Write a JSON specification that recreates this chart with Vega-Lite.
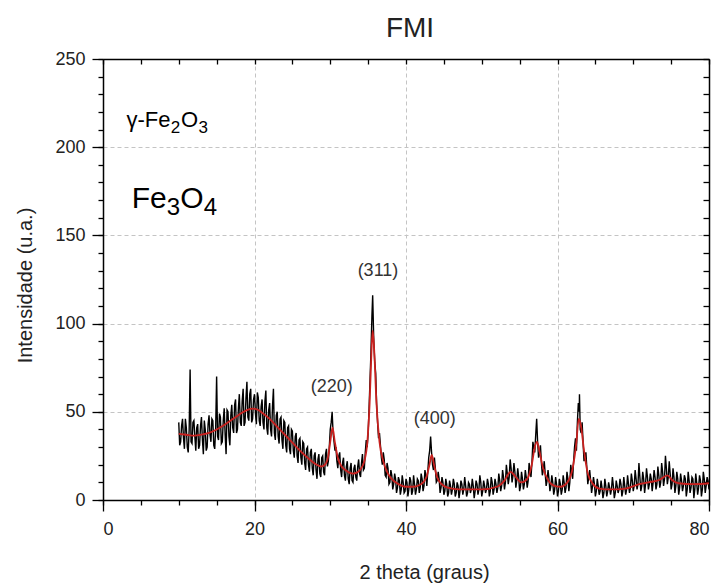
{
  "$schema": "https://vega.github.io/schema/vega-lite/v6.json",
  "width": 606,
  "height": 441,
  "autosize": "none",
  "padding": {"left": 103, "top": 59, "right": 13, "bottom": 86},
  "background": "white",
  "config": {
    "view": {"stroke": null},
    "font": "Liberation Sans",
    "axis": {
      "labelFont": "Liberation Sans",
      "titleFont": "Liberation Sans",
      "labelColor": "#222",
      "titleColor": "#222",
      "domainColor": "black",
      "tickColor": "black",
      "domainWidth": 1.5,
      "tickWidth": 1.3,
      "gridColor": "#c4c4c4",
      "gridDash": [4, 3],
      "gridWidth": 1
    }
  },
  "title": {"text": "FMI", "fontSize": 28, "fontWeight": "normal", "font": "Liberation Sans", "color": "#222", "offset": 7, "dx": 4},
  "datasets": {
    "obs": [
      {"t":10,"i":44},{"t":10.25,"i":33},{"t":10.5,"i":46},{"t":10.75,"i":29},{"t":11,"i":41},{"t":11.25,"i":27},{"t":11.5,"i":74},{"t":11.75,"i":32},
      {"t":12,"i":45},{"t":12.25,"i":28},{"t":12.5,"i":43},{"t":12.75,"i":31},{"t":13,"i":47},{"t":13.25,"i":26},{"t":13.5,"i":40},{"t":13.75,"i":30},
      {"t":14,"i":48},{"t":14.25,"i":33},{"t":14.5,"i":45},{"t":14.75,"i":29},{"t":15,"i":70},{"t":15.25,"i":34},{"t":15.5,"i":47},{"t":15.75,"i":33},
      {"t":16,"i":52},{"t":16.25,"i":26},{"t":16.5,"i":50},{"t":16.75,"i":31},{"t":17,"i":54},{"t":17.25,"i":38},{"t":17.5,"i":57},{"t":17.75,"i":40},
      {"t":18,"i":60},{"t":18.25,"i":42},{"t":18.5,"i":63},{"t":18.75,"i":44},{"t":19,"i":67},{"t":19.25,"i":45},{"t":19.5,"i":63},{"t":19.75,"i":46},
      {"t":20,"i":60},{"t":20.25,"i":43},{"t":20.5,"i":58},{"t":20.75,"i":42},{"t":21,"i":57},{"t":21.25,"i":40},{"t":21.5,"i":62},{"t":21.75,"i":37},
      {"t":22,"i":55},{"t":22.25,"i":36},{"t":22.5,"i":63},{"t":22.75,"i":34},{"t":23,"i":50},{"t":23.25,"i":32},{"t":23.5,"i":47},{"t":23.75,"i":29},
      {"t":24,"i":44},{"t":24.25,"i":27},{"t":24.5,"i":42},{"t":24.75,"i":26},{"t":25,"i":39},{"t":25.25,"i":24},{"t":25.5,"i":38},{"t":25.75,"i":21},
      {"t":26,"i":35},{"t":26.25,"i":20},{"t":26.5,"i":32},{"t":26.75,"i":17},{"t":27,"i":30},{"t":27.25,"i":16},{"t":27.5,"i":29},{"t":27.75,"i":14},
      {"t":28,"i":27},{"t":28.25,"i":12},{"t":28.5,"i":26},{"t":28.75,"i":13},{"t":29,"i":25},{"t":29.25,"i":14},{"t":29.5,"i":29},{"t":29.75,"i":22},
      {"t":30,"i":40},{"t":30.25,"i":50},{"t":30.5,"i":33},{"t":30.75,"i":30},{"t":31,"i":18},{"t":31.25,"i":27},{"t":31.5,"i":13},{"t":31.75,"i":24},
      {"t":32,"i":11},{"t":32.25,"i":22},{"t":32.5,"i":9},{"t":32.75,"i":21},{"t":33,"i":10},{"t":33.25,"i":20},{"t":33.5,"i":11},{"t":33.75,"i":23},
      {"t":34,"i":13},{"t":34.25,"i":26},{"t":34.5,"i":18},{"t":34.75,"i":34},{"t":35,"i":38},{"t":35.25,"i":68},{"t":35.5,"i":104},{"t":35.6,"i":116},
      {"t":35.75,"i":90},{"t":36,"i":72},{"t":36.25,"i":44},{"t":36.5,"i":38},{"t":36.75,"i":24},{"t":37,"i":27},{"t":37.25,"i":14},{"t":37.5,"i":21},
      {"t":37.75,"i":9},{"t":38,"i":17},{"t":38.25,"i":6},{"t":38.5,"i":15},{"t":38.75,"i":4},{"t":39,"i":13},{"t":39.25,"i":3},{"t":39.5,"i":14},
      {"t":39.75,"i":4},{"t":40,"i":12},{"t":40.25,"i":2},{"t":40.5,"i":13},{"t":40.75,"i":3},{"t":41,"i":14},{"t":41.25,"i":3},{"t":41.5,"i":12},
      {"t":41.75,"i":4},{"t":42,"i":15},{"t":42.25,"i":5},{"t":42.5,"i":17},{"t":42.75,"i":8},{"t":43,"i":24},{"t":43.25,"i":36},{"t":43.5,"i":20},
      {"t":43.75,"i":24},{"t":44,"i":10},{"t":44.25,"i":16},{"t":44.5,"i":4},{"t":44.75,"i":13},{"t":45,"i":3},{"t":45.25,"i":12},{"t":45.5,"i":2},
      {"t":45.75,"i":11},{"t":46,"i":3},{"t":46.25,"i":12},{"t":46.5,"i":2},{"t":46.75,"i":10},{"t":47,"i":1},{"t":47.25,"i":11},{"t":47.5,"i":3},
      {"t":47.75,"i":13},{"t":48,"i":2},{"t":48.25,"i":10},{"t":48.5,"i":4},{"t":48.75,"i":12},{"t":49,"i":1},{"t":49.25,"i":11},{"t":49.5,"i":3},
      {"t":49.75,"i":14},{"t":50,"i":2},{"t":50.25,"i":11},{"t":50.5,"i":4},{"t":50.75,"i":12},{"t":51,"i":2},{"t":51.25,"i":13},{"t":51.5,"i":3},
      {"t":51.75,"i":12},{"t":52,"i":4},{"t":52.25,"i":15},{"t":52.5,"i":5},{"t":52.75,"i":17},{"t":53,"i":6},{"t":53.25,"i":20},{"t":53.5,"i":9},
      {"t":53.75,"i":23},{"t":54,"i":10},{"t":54.25,"i":21},{"t":54.5,"i":7},{"t":54.75,"i":18},{"t":55,"i":5},{"t":55.25,"i":16},{"t":55.5,"i":6},
      {"t":55.75,"i":17},{"t":56,"i":7},{"t":56.25,"i":21},{"t":56.5,"i":13},{"t":56.75,"i":33},{"t":57,"i":27},{"t":57.25,"i":46},{"t":57.5,"i":24},
      {"t":57.75,"i":31},{"t":58,"i":14},{"t":58.25,"i":22},{"t":58.5,"i":8},{"t":58.75,"i":17},{"t":59,"i":5},{"t":59.25,"i":14},{"t":59.5,"i":3},
      {"t":59.75,"i":13},{"t":60,"i":2},{"t":60.25,"i":12},{"t":60.5,"i":3},{"t":60.75,"i":14},{"t":61,"i":4},{"t":61.25,"i":16},{"t":61.5,"i":5},
      {"t":61.75,"i":20},{"t":62,"i":12},{"t":62.25,"i":30},{"t":62.5,"i":28},{"t":62.75,"i":55},{"t":62.9,"i":60},{"t":63,"i":40},{"t":63.25,"i":44},
      {"t":63.5,"i":22},{"t":63.75,"i":27},{"t":64,"i":9},{"t":64.25,"i":17},{"t":64.5,"i":4},{"t":64.75,"i":13},{"t":65,"i":2},{"t":65.25,"i":12},
      {"t":65.5,"i":3},{"t":65.75,"i":11},{"t":66,"i":1},{"t":66.25,"i":12},{"t":66.5,"i":2},{"t":66.75,"i":10},{"t":67,"i":3},{"t":67.25,"i":13},
      {"t":67.5,"i":1},{"t":67.75,"i":11},{"t":68,"i":4},{"t":68.25,"i":12},{"t":68.5,"i":2},{"t":68.75,"i":13},{"t":69,"i":3},{"t":69.25,"i":14},
      {"t":69.5,"i":4},{"t":69.75,"i":15},{"t":70,"i":5},{"t":70.25,"i":17},{"t":70.5,"i":6},{"t":70.75,"i":21},{"t":71,"i":5},{"t":71.25,"i":16},
      {"t":71.5,"i":4},{"t":71.75,"i":18},{"t":72,"i":6},{"t":72.25,"i":15},{"t":72.5,"i":5},{"t":72.75,"i":17},{"t":73,"i":6},{"t":73.25,"i":19},
      {"t":73.5,"i":7},{"t":73.75,"i":21},{"t":74,"i":8},{"t":74.25,"i":25},{"t":74.5,"i":9},{"t":74.75,"i":22},{"t":75,"i":6},{"t":75.25,"i":18},
      {"t":75.5,"i":4},{"t":75.75,"i":16},{"t":76,"i":3},{"t":76.25,"i":15},{"t":76.5,"i":5},{"t":76.75,"i":14},{"t":77,"i":2},{"t":77.25,"i":16},
      {"t":77.5,"i":4},{"t":77.75,"i":13},{"t":78,"i":1},{"t":78.25,"i":15},{"t":78.5,"i":3},{"t":78.75,"i":14},{"t":79,"i":2},{"t":79.25,"i":16},
      {"t":79.5,"i":4},{"t":79.75,"i":13},{"t":80,"i":6},
      {"t":10.125,"i":31},{"t":10.375,"i":42},{"t":10.625,"i":35},{"t":10.875,"i":46},{"t":11.125,"i":30},{"t":11.375,"i":40},{"t":11.625,"i":33},{"t":11.875,"i":44},
      {"t":12.125,"i":36},{"t":12.375,"i":41},{"t":12.625,"i":29},{"t":12.875,"i":42},{"t":13.125,"i":34},{"t":13.375,"i":45},{"t":13.625,"i":28},{"t":13.875,"i":43},
      {"t":14.125,"i":37},{"t":14.375,"i":46},{"t":14.625,"i":31},{"t":14.875,"i":41},{"t":15.125,"i":36},{"t":15.375,"i":49},{"t":15.625,"i":32},{"t":15.875,"i":45},
      {"t":16.125,"i":37},{"t":16.375,"i":51},{"t":16.625,"i":36},{"t":16.875,"i":48},{"t":17.125,"i":41},{"t":17.375,"i":54},{"t":17.625,"i":38},{"t":17.875,"i":52},
      {"t":18.125,"i":44},{"t":18.375,"i":56},{"t":18.625,"i":42},{"t":18.875,"i":58},{"t":19.125,"i":47},{"t":19.375,"i":60},{"t":19.625,"i":44},{"t":19.875,"i":57},
      {"t":20.125,"i":49},{"t":20.375,"i":61},{"t":20.625,"i":45},{"t":20.875,"i":53},{"t":21.125,"i":44},{"t":21.375,"i":56},{"t":21.625,"i":41},{"t":21.875,"i":51},
      {"t":22.125,"i":40},{"t":22.375,"i":53},{"t":22.625,"i":38},{"t":22.875,"i":48},{"t":23.125,"i":36},{"t":23.375,"i":46},{"t":23.625,"i":34},{"t":23.875,"i":45},
      {"t":24.125,"i":31},{"t":24.375,"i":41},{"t":24.625,"i":29},{"t":24.875,"i":40},{"t":25.125,"i":28},{"t":25.375,"i":36},{"t":25.625,"i":25},{"t":25.875,"i":34},
      {"t":26.125,"i":24},{"t":26.375,"i":33},{"t":26.625,"i":21},{"t":26.875,"i":29},{"t":27.125,"i":20},{"t":27.375,"i":27},{"t":27.625,"i":18},{"t":27.875,"i":25},
      {"t":28.125,"i":17},{"t":28.375,"i":23},{"t":28.625,"i":15},{"t":28.875,"i":24},{"t":29.125,"i":16},{"t":29.375,"i":26},{"t":29.625,"i":19},{"t":29.875,"i":30},
      {"t":30.125,"i":44},{"t":30.375,"i":38},{"t":30.625,"i":28},{"t":30.875,"i":22},{"t":31.125,"i":25},{"t":31.375,"i":17},{"t":31.625,"i":21},{"t":31.875,"i":14},
      {"t":32.125,"i":19},{"t":32.375,"i":12},{"t":32.625,"i":18},{"t":32.875,"i":11},{"t":33.125,"i":18},{"t":33.375,"i":13},{"t":33.625,"i":19},{"t":33.875,"i":15},
      {"t":34.125,"i":21},{"t":34.375,"i":17},{"t":34.625,"i":27},{"t":34.875,"i":30},{"t":35.125,"i":52},{"t":35.375,"i":84},{"t":35.875,"i":78},{"t":36.125,"i":54},
      {"t":36.375,"i":35},{"t":36.625,"i":31},{"t":36.875,"i":20},{"t":37.125,"i":23},{"t":37.375,"i":13},{"t":37.625,"i":18},{"t":37.875,"i":10},{"t":38.125,"i":14},
      {"t":38.375,"i":9},{"t":38.625,"i":12},{"t":38.875,"i":7},{"t":39.125,"i":11},{"t":39.375,"i":6},{"t":39.625,"i":10},{"t":39.875,"i":5},{"t":40.125,"i":10},
      {"t":40.375,"i":6},{"t":40.625,"i":11},{"t":40.875,"i":5},{"t":41.125,"i":9},{"t":41.375,"i":6},{"t":41.625,"i":11},{"t":41.875,"i":7},{"t":42.125,"i":12},
      {"t":42.375,"i":8},{"t":42.625,"i":14},{"t":42.875,"i":16},{"t":43.125,"i":28},{"t":43.375,"i":27},{"t":43.625,"i":17},{"t":43.875,"i":18},{"t":44.125,"i":11},
      {"t":44.375,"i":12},{"t":44.625,"i":7},{"t":44.875,"i":10},{"t":45.125,"i":5},{"t":45.375,"i":9},{"t":45.625,"i":4},{"t":45.875,"i":8},{"t":46.125,"i":6},
      {"t":46.375,"i":9},{"t":46.625,"i":4},{"t":46.875,"i":8},{"t":47.125,"i":5},{"t":47.375,"i":9},{"t":47.625,"i":6},{"t":47.875,"i":8},{"t":48.125,"i":4},
      {"t":48.375,"i":9},{"t":48.625,"i":6},{"t":48.875,"i":8},{"t":49.125,"i":5},{"t":49.375,"i":9},{"t":49.625,"i":6},{"t":49.875,"i":10},{"t":50.125,"i":5},
      {"t":50.375,"i":8},{"t":50.625,"i":6},{"t":50.875,"i":9},{"t":51.125,"i":5},{"t":51.375,"i":10},{"t":51.625,"i":6},{"t":51.875,"i":9},{"t":52.125,"i":7},
      {"t":52.375,"i":11},{"t":52.625,"i":8},{"t":52.875,"i":13},{"t":53.125,"i":10},{"t":53.375,"i":15},{"t":53.625,"i":13},{"t":53.875,"i":18},{"t":54.125,"i":14},
      {"t":54.375,"i":16},{"t":54.625,"i":11},{"t":54.875,"i":13},{"t":55.125,"i":8},{"t":55.375,"i":12},{"t":55.625,"i":9},{"t":55.875,"i":13},{"t":56.125,"i":11},
      {"t":56.375,"i":17},{"t":56.625,"i":21},{"t":56.875,"i":30},{"t":57.125,"i":37},{"t":57.375,"i":33},{"t":57.625,"i":26},{"t":57.875,"i":21},{"t":58.125,"i":17},
      {"t":58.375,"i":15},{"t":58.625,"i":11},{"t":58.875,"i":12},{"t":59.125,"i":8},{"t":59.375,"i":10},{"t":59.625,"i":6},{"t":59.875,"i":9},{"t":60.125,"i":5},
      {"t":60.375,"i":9},{"t":60.625,"i":6},{"t":60.875,"i":10},{"t":61.125,"i":7},{"t":61.375,"i":12},{"t":61.625,"i":10},{"t":61.875,"i":16},{"t":62.125,"i":22},
      {"t":62.375,"i":35},{"t":62.625,"i":44},{"t":62.875,"i":50},{"t":63.125,"i":38},{"t":63.375,"i":33},{"t":63.625,"i":24},{"t":63.875,"i":18},{"t":64.125,"i":13},
      {"t":64.375,"i":11},{"t":64.625,"i":8},{"t":64.875,"i":9},{"t":65.125,"i":5},{"t":65.375,"i":8},{"t":65.625,"i":5},{"t":65.875,"i":7},{"t":66.125,"i":4},
      {"t":66.375,"i":8},{"t":66.625,"i":5},{"t":66.875,"i":7},{"t":67.125,"i":6},{"t":67.375,"i":8},{"t":67.625,"i":4},{"t":67.875,"i":8},{"t":68.125,"i":6},
      {"t":68.375,"i":9},{"t":68.625,"i":5},{"t":68.875,"i":8},{"t":69.125,"i":6},{"t":69.375,"i":9},{"t":69.625,"i":7},{"t":69.875,"i":11},{"t":70.125,"i":8},
      {"t":70.375,"i":12},{"t":70.625,"i":9},{"t":70.875,"i":13},{"t":71.125,"i":8},{"t":71.375,"i":12},{"t":71.625,"i":9},{"t":71.875,"i":13},{"t":72.125,"i":9},
      {"t":72.375,"i":12},{"t":72.625,"i":10},{"t":72.875,"i":13},{"t":73.125,"i":9},{"t":73.375,"i":14},{"t":73.625,"i":10},{"t":73.875,"i":16},{"t":74.125,"i":12},
      {"t":74.375,"i":18},{"t":74.625,"i":13},{"t":74.875,"i":15},{"t":75.125,"i":9},{"t":75.375,"i":13},{"t":75.625,"i":8},{"t":75.875,"i":12},{"t":76.125,"i":7},
      {"t":76.375,"i":11},{"t":76.625,"i":8},{"t":76.875,"i":12},{"t":77.125,"i":6},{"t":77.375,"i":11},{"t":77.625,"i":7},{"t":77.875,"i":12},{"t":78.125,"i":6},
      {"t":78.375,"i":10},{"t":78.625,"i":7},{"t":78.875,"i":11},{"t":79.125,"i":6},{"t":79.375,"i":12},{"t":79.625,"i":8},{"t":79.875,"i":11}
    ],
    "fit": [
      {"t":10,"i":37.5},{"t":11,"i":37},{"t":12,"i":36.5},{"t":13,"i":37},{"t":14,"i":38},{"t":15,"i":40},{"t":16,"i":42.5},{"t":17,"i":45.5},
      {"t":18,"i":48.5},{"t":19,"i":51},{"t":19.8,"i":51.8},{"t":20.5,"i":51},{"t":21,"i":49.5},{"t":22,"i":46},{"t":23,"i":41.5},{"t":24,"i":37},
      {"t":25,"i":32.5},{"t":26,"i":28},{"t":27,"i":24},{"t":28,"i":20.5},{"t":28.8,"i":19},{"t":29.3,"i":20},{"t":29.7,"i":24},{"t":30,"i":33},
      {"t":30.3,"i":41},{"t":30.6,"i":33},{"t":31,"i":24},{"t":31.5,"i":19},{"t":32,"i":17},{"t":32.5,"i":15.5},{"t":33,"i":15},{"t":33.5,"i":15.5},
      {"t":34,"i":17.5},{"t":34.5,"i":22},{"t":34.9,"i":33},{"t":35.2,"i":55},{"t":35.45,"i":85},{"t":35.6,"i":96},{"t":35.8,"i":85},{"t":36.1,"i":55},
      {"t":36.5,"i":33},{"t":37,"i":22},{"t":37.5,"i":16},{"t":38,"i":12.5},{"t":39,"i":9},{"t":40,"i":7.5},{"t":41,"i":7.5},{"t":42,"i":9},
      {"t":42.7,"i":13},{"t":43.1,"i":20},{"t":43.4,"i":25.5},{"t":43.7,"i":20},{"t":44.1,"i":13},{"t":44.7,"i":9},{"t":45.5,"i":7},{"t":47,"i":6},
      {"t":50,"i":6},{"t":52,"i":7.5},{"t":53,"i":11},{"t":53.8,"i":16},{"t":54.5,"i":13},{"t":55.2,"i":10},{"t":56,"i":12},{"t":56.6,"i":20},
      {"t":57,"i":30},{"t":57.3,"i":33},{"t":57.6,"i":28},{"t":58.1,"i":18},{"t":58.8,"i":11},{"t":59.6,"i":8},{"t":60.4,"i":7.5},{"t":61.3,"i":10},
      {"t":62,"i":18},{"t":62.5,"i":33},{"t":62.8,"i":46},{"t":63.1,"i":42},{"t":63.5,"i":28},{"t":64,"i":15},{"t":64.7,"i":9},{"t":65.5,"i":6.5},
      {"t":67,"i":6},{"t":69,"i":6.5},{"t":70.8,"i":9},{"t":72,"i":10},{"t":73.5,"i":11.5},{"t":74.5,"i":14},{"t":75.2,"i":11},{"t":76,"i":9.5},
      {"t":78,"i":9},{"t":80,"i":9.5}
    ],
    "peaks": [
      {"t":30.2,"i":64,"label":"(220)"},
      {"t":36.3,"i":130,"label":"(311)"},
      {"t":43.8,"i":46,"label":"(400)"}
    ],
    "f1main": [{"t":3.1,"i":211.6,"label":"γ-Fe"},{"t":10.3,"i":211.6,"label":"O"}],
    "f1sub": [{"t":8.95,"i":208,"label":"2"},{"t":12.62,"i":208,"label":"3"}],
    "f2main": [{"t":3.8,"i":165.3,"label":"Fe"},{"t":10.2,"i":165.3,"label":"O"}],
    "f2sub": [{"t":8.4,"i":161.5,"label":"3"},{"t":13.3,"i":161.5,"label":"4"}]
  },
  "resolve": {"axis": {"x": "independent", "y": "independent"}},
  "layer": [
    {
      "data": {"name": "obs"},
      "mark": {"type": "line", "color": "black", "strokeWidth": 1.4, "interpolate": "linear"},
      "encoding": {
        "x": {"field": "t", "type": "quantitative", "scale": {"domain": [0, 80], "nice": false, "zero": false},
          "axis": {"orient": "bottom", "values": [0, 20, 40, 60, 80], "tickSize": 11, "labelPadding": 9, "labelFontSize": 18, "grid": true,
            "title": "2 theta (graus)", "titleFontSize": 20, "titleFontWeight": "normal", "titleX": 321, "titleY": 62, "titleAlign": "center", "titleBaseline": "top"}},
        "y": {"field": "i", "type": "quantitative", "scale": {"domain": [0, 250], "nice": false},
          "axis": {"orient": "left", "values": [0, 50, 100, 150, 200, 250], "tickSize": 11, "labelPadding": 7, "labelFontSize": 18, "grid": true,
            "title": "Intensidade (u.a.)", "titleFontSize": 20, "titleFontWeight": "normal", "titleX": -78, "titleY": 226, "titleAlign": "center", "titleBaseline": "middle", "titleAngle": -90}}
      }
    },
    {
      "data": {"name": "fit"},
      "mark": {"type": "line", "color": "#c8201e", "strokeWidth": 1.8, "interpolate": "monotone"},
      "encoding": {
        "x": {"field": "t", "type": "quantitative",
          "axis": {"orient": "bottom", "values": [0,5,10,15,20,25,30,35,40,45,50,55,60,65,70,75,80], "tickSize": 5, "labels": false, "domain": false, "grid": false, "title": null}},
        "y": {"field": "i", "type": "quantitative",
          "axis": {"orient": "left", "values": [0,10,20,30,40,50,60,70,80,90,100,110,120,130,140,150,160,170,180,190,200,210,220,230,240,250], "tickSize": 5, "labels": false, "domain": false, "grid": false, "title": null}}
      }
    },
    {
      "data": {"name": "peaks"},
      "mark": {"type": "text", "fontSize": 18, "color": "#333", "font": "Liberation Sans", "align": "center", "baseline": "middle"},
      "encoding": {
        "x": {"field": "t", "type": "quantitative",
          "axis": {"orient": "top", "values": [0,5,10,15,20,25,30,35,40,45,50,55,60,65,70,75,80], "tickSize": -5, "labels": false, "domain": true, "grid": false, "title": null}},
        "y": {"field": "i", "type": "quantitative",
          "axis": {"orient": "right", "values": [0,10,20,30,40,50,60,70,80,90,100,110,120,130,140,150,160,170,180,190,200,210,220,230,240,250], "tickSize": -6, "labels": false, "domain": true, "grid": false, "title": null}},
        "text": {"field": "label"}
      }
    },
    {
      "data": {"name": "f1main"},
      "mark": {"type": "text", "fontSize": 22, "color": "black", "font": "Liberation Sans", "align": "left", "baseline": "alphabetic"},
      "encoding": {
        "x": {"field": "t", "type": "quantitative", "axis": null},
        "y": {"field": "i", "type": "quantitative", "axis": null},
        "text": {"field": "label"}
      }
    },
    {
      "data": {"name": "f1sub"},
      "mark": {"type": "text", "fontSize": 17, "color": "black", "font": "Liberation Sans", "align": "left", "baseline": "alphabetic"},
      "encoding": {
        "x": {"field": "t", "type": "quantitative", "axis": null},
        "y": {"field": "i", "type": "quantitative", "axis": null},
        "text": {"field": "label"}
      }
    },
    {
      "data": {"name": "f2main"},
      "mark": {"type": "text", "fontSize": 30, "color": "black", "font": "Liberation Sans", "align": "left", "baseline": "alphabetic"},
      "encoding": {
        "x": {"field": "t", "type": "quantitative", "axis": null},
        "y": {"field": "i", "type": "quantitative", "axis": null},
        "text": {"field": "label"}
      }
    },
    {
      "data": {"name": "f2sub"},
      "mark": {"type": "text", "fontSize": 24, "color": "black", "font": "Liberation Sans", "align": "left", "baseline": "alphabetic"},
      "encoding": {
        "x": {"field": "t", "type": "quantitative", "axis": null},
        "y": {"field": "i", "type": "quantitative", "axis": null},
        "text": {"field": "label"}
      }
    }
  ]
}
